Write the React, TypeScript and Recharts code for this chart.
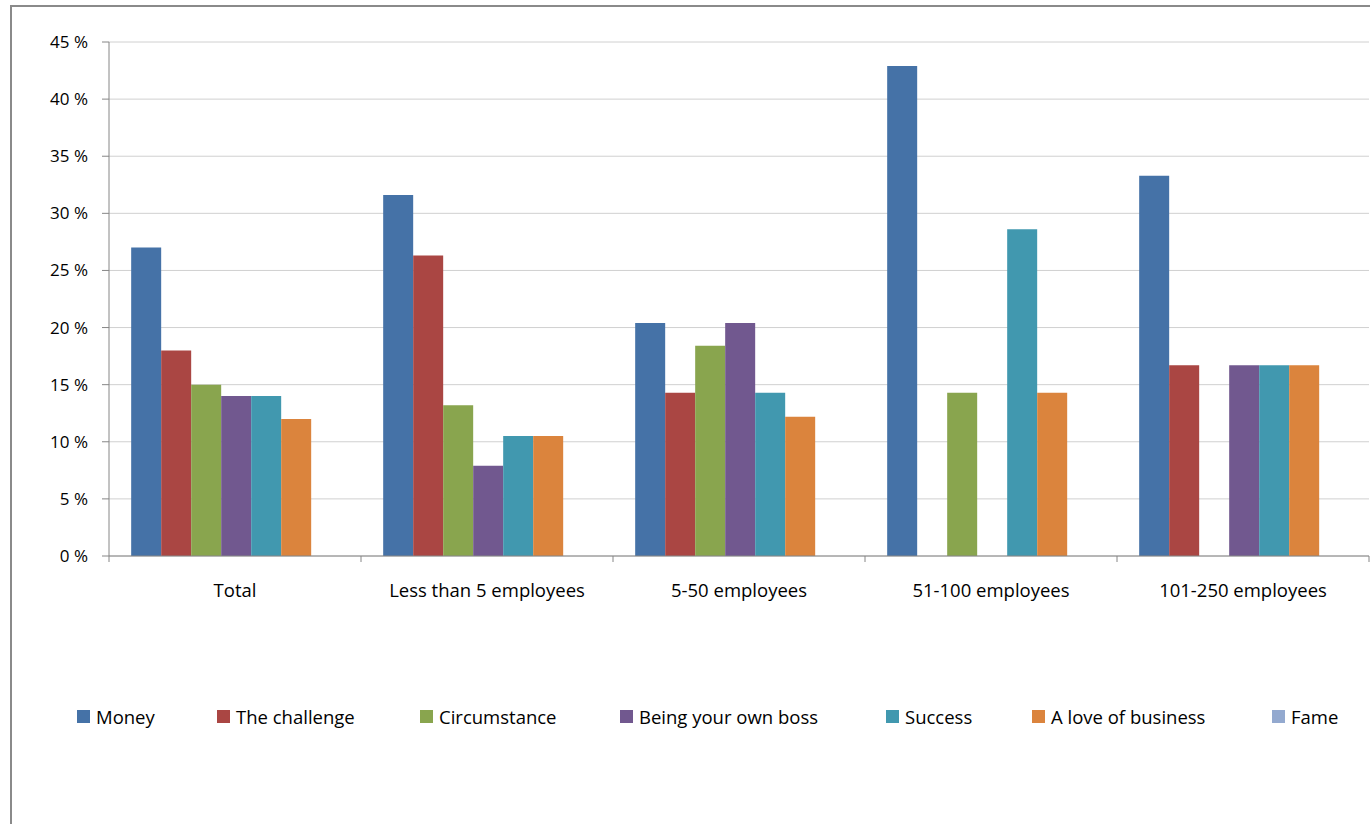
import React from "react";
import { BarChart, Bar, XAxis, YAxis, CartesianGrid } from "recharts";

const categories = ["Total", "Less than 5 employees", "5-50 employees", "51-100 employees", "101-250 employees"];
const money = [27, 31.6, 20.4, 42.9, 33.3];
const challenge = [18, 26.3, 14.3, 0, 16.7];
const circumstance = [15, 13.2, 18.4, 14.3, 0];
const ownBoss = [14, 7.9, 20.4, 0, 16.7];
const success = [14, 10.5, 14.3, 28.6, 16.7];
const love = [12, 10.5, 12.2, 14.3, 16.7];
const fame = [0, 0, 0, 0, 0];
const yTicks = [0, 5, 10, 15, 20, 25, 30, 35, 40, 45];

const seriesNames = ["Money", "The challenge", "Circumstance", "Being your own boss", "Success", "A love of business", "Fame"];
const seriesKeys = ["money", "challenge", "circumstance", "ownBoss", "success", "love", "fame"];
const seriesColors = ["#4572A7", "#AA4643", "#89A54E", "#71588F", "#4198AF", "#DB843D", "#93A9CF"];
const seriesValues = [money, challenge, circumstance, ownBoss, success, love, fame];

// legend item left positions (layout only)
const legendLefts = [77, 217, 420, 620, 886, 1032, 1272];

const data = categories.map((c, i) => {
  const row: Record<string, any> = { name: c };
  seriesKeys.forEach((k, j) => {
    row[k] = seriesValues[j][i];
  });
  return row;
});

const FONT = "'Open Sans', 'Noto Sans', sans-serif";
const FS = 18.5;
const YFS = 17;
const TICK_MARGIN = 28;

const XTick = (props: any) => {
  const { x, y, payload, index, visibleTicksCount, width } = props;
  const n = visibleTicksCount || categories.length;
  const band = (width || 1260) / n;
  const axisY = y - TICK_MARGIN;
  const isLast = index === n - 1;
  return (
    <g>
      <line x1={x - band / 2} x2={x - band / 2} y1={axisY} y2={axisY + 6} stroke="#868686" strokeWidth={1} />
      {isLast && (
        <line x1={x + band / 2} x2={x + band / 2} y1={axisY} y2={axisY + 6} stroke="#868686" strokeWidth={1} />
      )}
      <text x={x} y={y} dy="0.71em" textAnchor="middle" fill="#000" fontSize={FS} fontFamily={FONT}>
        {payload.value}
      </text>
    </g>
  );
};

export default function App() {
  return (
    <div style={{ position: "fixed", left: 0, top: 0, width: 1370, height: 824, overflow: "hidden", background: "#fff" }}>
      <div
        style={{
          position: "absolute",
          left: 10,
          top: 5,
          width: 1420,
          height: 900,
          border: "2px solid #8a8a8a",
          boxSizing: "border-box",
        }}
      />
      <div style={{ position: "absolute", left: 0, top: 0 }}>
        <BarChart
          width={1370}
          height={824}
          data={data}
          margin={{ top: 42, right: 1, left: 0, bottom: 228 }}
          barCategoryGap="8.8%"
          barGap={0}
        >
          <CartesianGrid horizontal={true} vertical={false} stroke="#D0D0D0" strokeWidth={1} />
          <XAxis
            dataKey="name"
            height={40}
            tickLine={false}
            tickSize={0}
            tickMargin={TICK_MARGIN}
            axisLine={{ stroke: "#868686" }}
            tick={<XTick />}
            interval={0}
          />
          <YAxis
            width={109}
            domain={[0, 45]}
            ticks={yTicks}
            interval={0}
            tickFormatter={(v: number) => `${v} %`}
            tickSize={7}
            tickMargin={14}
            tickLine={{ stroke: "#868686" }}
            axisLine={{ stroke: "#868686" }}
            tick={{ fill: "#000", fontSize: YFS, fontFamily: FONT }}
          />
          {seriesKeys.map((k, j) => (
            <Bar key={k} dataKey={k} name={seriesNames[j]} fill={seriesColors[j]} isAnimationActive={false} />
          ))}
        </BarChart>
      </div>
      {seriesNames.map((n, j) => (
        <div
          key={n}
          style={{
            position: "absolute",
            left: legendLefts[j],
            top: 702,
            height: 28,
            display: "flex",
            alignItems: "center",
            gap: 6,
            fontFamily: FONT,
            fontSize: FS,
            color: "#000",
            whiteSpace: "nowrap",
          }}
        >
          <div style={{ width: 13, height: 13, background: seriesColors[j] }} />
          <span>{n}</span>
        </div>
      ))}
    </div>
  );
}
